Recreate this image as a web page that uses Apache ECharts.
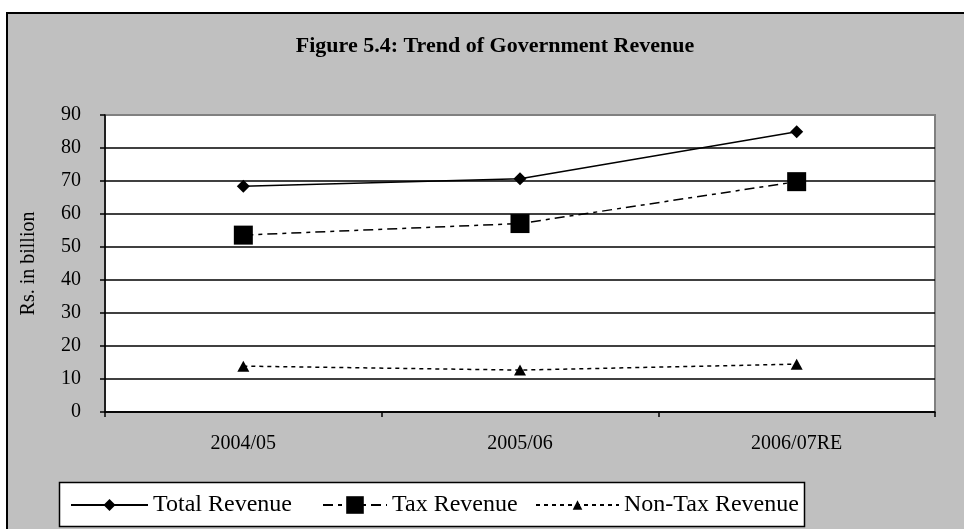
<!DOCTYPE html>
<html>
<head>
<meta charset="utf-8">
<script src="https://cdn.jsdelivr.net/npm/echarts@6/dist/echarts.min.js"></script>
<style>
  html, body { margin: 0; padding: 0; background: #ffffff; }
  #chart { width: 964px; height: 529px; }
</style>
</head>
<body>
<div id="chart"></div>
<script>
// Fiscal years on the horizontal axis
const years = ['2004/05', '2005/06', '2006/07RE'];

// Revenue in Rs. billion
const totalRevenue = [68.4, 70.7, 84.9];
const taxRevenue = [53.6, 57.1, 69.8];
const nonTaxRevenue = [13.9, 12.7, 14.5];

// Value axis ticks
const yMin = 0;
const yMax = 90;
const yStep = 10;

const serif = '"Liberation Serif", "Times New Roman", serif';

const chart = echarts.init(document.getElementById('chart'), null, { renderer: 'canvas' });

// one colour per horizontal grid line; the top edge is drawn grey like the frame
const gridColors = [];
for (let v = yMin; v <= yMax; v += yStep) {
  gridColors.push(v === yMax ? '#808080' : '#000000');
}

// shared look of the three legend entries (each keeps its own key size)
function legendEntry(name, left, width, height) {
  return {
    data: [name],
    left: left,
    top: 493,
    padding: 0,
    itemWidth: width,
    itemHeight: height,
    selectedMode: false,
    itemStyle: { borderWidth: 0 },
    textStyle: { fontFamily: serif, fontSize: 24, color: '#000' }
  };
}

chart.setOption({
  backgroundColor: '#ffffff',
  animation: false,
  graphic: [
    {
      type: 'rect',
      z: -10,
      silent: true,
      shape: { x: 7, y: 13, width: 990, height: 560 },
      style: { fill: '#c0c0c0', stroke: '#000000', lineWidth: 2 }
    },
    {
      // white box framing the legend entries
      type: 'rect',
      z: -5,
      silent: true,
      shape: { x: 59.5, y: 482.5, width: 745, height: 44 },
      style: { fill: '#ffffff', stroke: '#000000', lineWidth: 1.5 }
    }
  ],
  title: {
    text: 'Figure 5.4: Trend of Government Revenue',
    left: 490,
    textAlign: 'center',
    top: 30,
    textStyle: { fontFamily: serif, fontWeight: 'bold', fontSize: 22, color: '#000' }
  },
  legend: [
    legendEntry('Total Revenue', 70, 77, 15),
    legendEntry('Tax Revenue', 322, 64, 22),
    legendEntry('Non-Tax Revenue', 535, 83, 12)
  ],
  grid: {
    left: 105,
    right: 29,
    top: 115,
    bottom: 117,
    show: true,
    backgroundColor: '#ffffff',
    borderColor: '#808080',
    borderWidth: 2
  },
  xAxis: {
    type: 'category',
    data: years,
    boundaryGap: true,
    axisLine: { lineStyle: { color: '#000', width: 1.5 } },
    axisTick: { show: true, length: 5, lineStyle: { color: '#000', width: 1.5 } },
    axisLabel: { fontFamily: serif, fontSize: 20, color: '#000', margin: 22 },
    splitLine: { show: false }
  },
  yAxis: {
    type: 'value',
    min: yMin,
    max: yMax,
    interval: yStep,
    name: 'Rs. in billion',
    nameLocation: 'middle',
    nameGap: 66,
    nameRotate: 90,
    nameTextStyle: { fontFamily: serif, fontSize: 20, color: '#000' },
    axisLine: { show: true, lineStyle: { color: '#000', width: 1.5 } },
    axisTick: { show: true, length: 5, lineStyle: { color: '#000', width: 1.5 } },
    axisLabel: { fontFamily: serif, fontSize: 20, color: '#000', margin: 24 },
    splitLine: { show: true, lineStyle: { color: gridColors, width: 1.5 } }
  },
  series: [
    {
      name: 'Total Revenue',
      type: 'line',
      data: totalRevenue,
      symbol: 'diamond',
      symbolSize: [13, 13],
      lineStyle: { color: '#000', width: 1.5, type: 'solid' },
      itemStyle: { color: '#000' },
      z: 4
    },
    {
      name: 'Tax Revenue',
      type: 'line',
      data: taxRevenue,
      symbol: 'rect',
      symbolSize: 19,
      lineStyle: { color: '#000', width: 1.5, type: [10, 5, 4, 5] },
      itemStyle: { color: '#000' },
      z: 3
    },
    {
      name: 'Non-Tax Revenue',
      type: 'line',
      data: nonTaxRevenue,
      symbol: 'triangle',
      symbolSize: [12, 11],
      lineStyle: { color: '#000', width: 1.5, type: [4, 4] },
      itemStyle: { color: '#000' },
      z: 2
    }
  ]
});
</script>
</body>
</html>
